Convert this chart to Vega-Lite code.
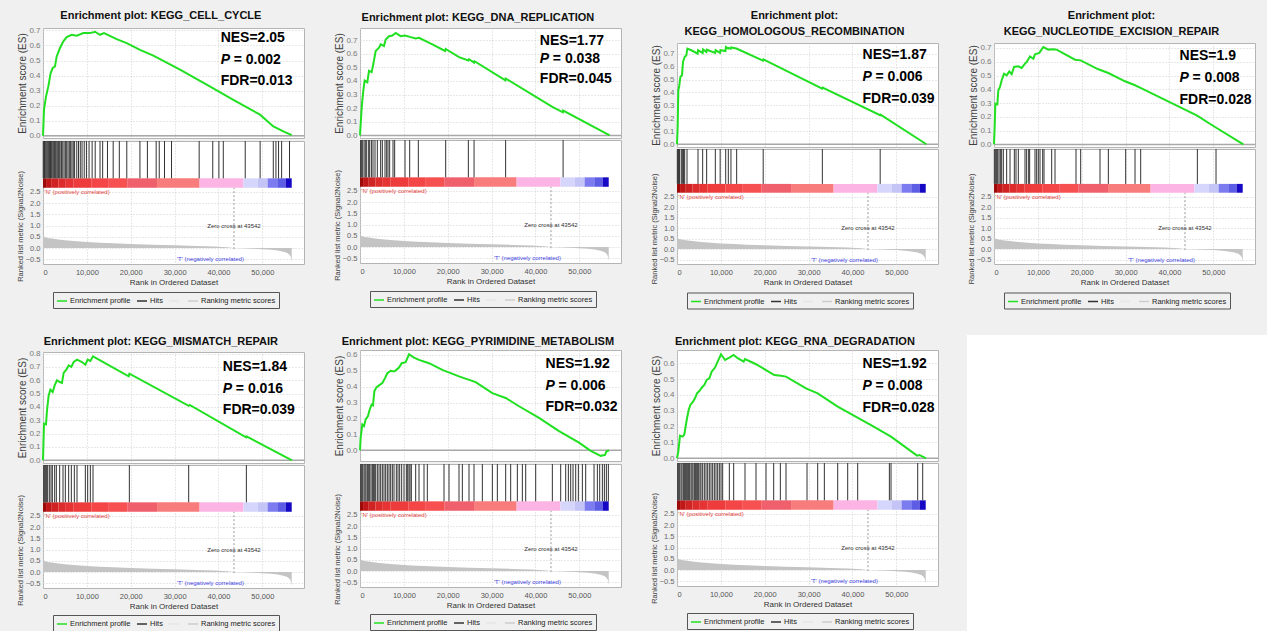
{
"$schema": "https://vega.github.io/schema/vega-lite/v6.json",
"background": "#f0f0f0",
"padding": {"left": 16, "top": 9, "right": 0, "bottom": 0},
"config": {
  "font": "Liberation Sans",
  "view": {"fill": "white", "stroke": "#b4b4b4"},
  "axis": {"domain": false, "ticks": false, "labelOverlap": false, "tickCount": 20, "gridColor": "#d0d0d0", "gridDash": [1, 2], "labelColor": "#7a7a7a", "titleColor": "#404040", "titleFontWeight": "normal"},
  "axisY": {"minExtent": 14, "maxExtent": 14, "labelPadding": 3},
  "title": {"fontSize": 11, "fontWeight": "bold", "color": "#111111", "anchor": "middle", "frame": "bounds", "offset": 5, "lineHeight": 16},
  "legend": {"orient": "none", "direction": "horizontal", "gridAlign": "none", "symbolType": "stroke", "symbolSize": 100, "symbolStrokeWidth": 1.5, "labelFontSize": 7.5, "labelColor": "#222222", "labelOffset": 2, "columnPadding": 3, "strokeColor": "#555555", "padding": 3}
},
"datasets": {
  "metric": [{"rank":0,"metric":0.58},{"rank":150,"metric":0.52},{"rank":500,"metric":0.48},{"rank":1000,"metric":0.45},{"rank":2000,"metric":0.42},{"rank":3500,"metric":0.38},{"rank":5000,"metric":0.35},{"rank":7000,"metric":0.31},{"rank":10000,"metric":0.27},{"rank":13000,"metric":0.24},{"rank":16000,"metric":0.21},{"rank":20000,"metric":0.18},{"rank":25000,"metric":0.15},{"rank":30000,"metric":0.12},{"rank":35000,"metric":0.095},{"rank":39000,"metric":0.07},{"rank":42000,"metric":0.04},{"rank":43542,"metric":0.0},{"rank":45500,"metric":-0.01},{"rank":48000,"metric":-0.03},{"rank":50000,"metric":-0.05},{"rank":52000,"metric":-0.08},{"rank":53500,"metric":-0.11},{"rank":54800,"metric":-0.16},{"rank":55700,"metric":-0.22},{"rank":56200,"metric":-0.3},{"rank":56500,"metric":-0.4},{"rank":56700,"metric":-0.62}],
  "colorbar": [{"start":0,"end":700,"bin":"b01"},{"start":700,"end":2000,"bin":"b02"},{"start":2000,"end":3500,"bin":"b03"},{"start":3500,"end":5200,"bin":"b04"},{"start":5200,"end":7000,"bin":"b05"},{"start":7000,"end":11000,"bin":"b06"},{"start":11000,"end":15000,"bin":"b07"},{"start":15000,"end":19200,"bin":"b08"},{"start":19200,"end":26000,"bin":"b09"},{"start":26000,"end":35700,"bin":"b10"},{"start":35700,"end":45700,"bin":"b11"},{"start":45700,"end":49000,"bin":"b12"},{"start":49000,"end":51200,"bin":"b13"},{"start":51200,"end":53400,"bin":"b14"},{"start":53400,"end":55300,"bin":"b15"},{"start":55300,"end":56700,"bin":"b16"}],
  "notes": [{"pos": "'N' (positively correlated)", "zero": "Zero cross at 43542", "neg": "'T' (negatively correlated)"}],
  "es1": [{"rank":0,"es":0},{"rank":228,"es":0.173},{"rank":684,"es":0.26},{"rank":1216,"es":0.328},{"rank":1748,"es":0.416},{"rank":2204,"es":0.45},{"rank":2736,"es":0.46},{"rank":3116,"es":0.527},{"rank":3876,"es":0.583},{"rank":4636,"es":0.627},{"rank":5396,"es":0.656},{"rank":6536,"es":0.671},{"rank":7676,"es":0.665},{"rank":9196,"es":0.682},{"rank":10716,"es":0.682},{"rank":11856,"es":0.691},{"rank":12996,"es":0.671},{"rank":13908,"es":0.682},{"rank":16796,"es":0.642},{"rank":19076,"es":0.616},{"rank":22116,"es":0.571},{"rank":25156,"es":0.532},{"rank":31236,"es":0.439},{"rank":37316,"es":0.339},{"rank":43396,"es":0.239},{"rank":49476,"es":0.14},{"rank":52516,"es":0.062},{"rank":54796,"es":0.029},{"rank":56696,"es":0.004}],
  "hits1": [{"rank":50},{"rank":200},{"rank":350},{"rank":500},{"rank":700},{"rank":900},{"rank":1100},{"rank":1300},{"rank":1500},{"rank":1700},{"rank":1900},{"rank":2100},{"rank":2350},{"rank":2600},{"rank":2800},{"rank":3000},{"rank":3250},{"rank":3500},{"rank":3700},{"rank":3900},{"rank":4200},{"rank":4500},{"rank":4800},{"rank":5100},{"rank":5400},{"rank":5700},{"rank":6000},{"rank":6300},{"rank":6600},{"rank":6900},{"rank":7200},{"rank":7700},{"rank":8100},{"rank":8500},{"rank":8900},{"rank":9400},{"rank":9900},{"rank":10500},{"rank":11200},{"rank":11900},{"rank":13000},{"rank":13600},{"rank":14700},{"rank":16000},{"rank":17400},{"rank":19100},{"rank":22100},{"rank":23800},{"rank":25800},{"rank":26500},{"rank":27700},{"rank":29300},{"rank":35600},{"rank":38700},{"rank":40100},{"rank":41100},{"rank":46100},{"rank":49500},{"rank":52500},{"rank":53100},{"rank":53700},{"rank":54400},{"rank":56200}],
  "es2": [{"rank":0,"es":0},{"rank":304,"es":0.162},{"rank":532,"es":0.258},{"rank":760,"es":0.33},{"rank":1064,"es":0.403},{"rank":1672,"es":0.39},{"rank":2052,"es":0.475},{"rank":2660,"es":0.465},{"rank":3040,"es":0.524},{"rank":3572,"es":0.62},{"rank":4332,"es":0.644},{"rank":4712,"es":0.669},{"rank":5472,"es":0.657},{"rank":5852,"es":0.705},{"rank":6612,"es":0.729},{"rank":7372,"es":0.734},{"rank":8132,"es":0.753},{"rank":9272,"es":0.729},{"rank":10260,"es":0.734},{"rank":11552,"es":0.722},{"rank":12692,"es":0.712},{"rank":13452,"es":0.717},{"rank":16492,"es":0.669},{"rank":19400,"es":0.62},{"rank":19532,"es":0.635},{"rank":22572,"es":0.575},{"rank":24700,"es":0.55},{"rank":24852,"es":0.56},{"rank":26000,"es":0.535},{"rank":26100,"es":0.545},{"rank":33150,"es":0.405},{"rank":33212,"es":0.418},{"rank":43852,"es":0.21},{"rank":46250,"es":0.17},{"rank":46320,"es":0.182},{"rank":56924,"es":0}],
  "hits2": [{"rank":152},{"rank":300},{"rank":532},{"rank":912},{"rank":1200},{"rank":1444},{"rank":1900},{"rank":2204},{"rank":2600},{"rank":2964},{"rank":3420},{"rank":3952},{"rank":4712},{"rank":5092},{"rank":5700},{"rank":6080},{"rank":6384},{"rank":6764},{"rank":7524},{"rank":7904},{"rank":10260},{"rank":11324},{"rank":13300},{"rank":19532},{"rank":24700},{"rank":26000},{"rank":33200},{"rank":46300}],
  "es3": [{"rank":0,"es":0},{"rank":152,"es":0.134},{"rank":304,"es":0.417},{"rank":532,"es":0.455},{"rank":760,"es":0.52},{"rank":1140,"es":0.533},{"rank":1368,"es":0.636},{"rank":1748,"es":0.674},{"rank":2128,"es":0.687},{"rank":2356,"es":0.739},{"rank":3268,"es":0.726},{"rank":4700,"es":0.7},{"rank":4800,"es":0.726},{"rank":5850,"es":0.705},{"rank":5930,"es":0.733},{"rank":6700,"es":0.713},{"rank":6800,"es":0.73},{"rank":8700,"es":0.705},{"rank":8800,"es":0.726},{"rank":9800,"es":0.705},{"rank":9900,"es":0.726},{"rank":11050,"es":0.72},{"rank":11150,"es":0.751},{"rank":11650,"es":0.739},{"rank":11750,"es":0.744},{"rank":12250,"es":0.738},{"rank":12350,"es":0.748},{"rank":13550,"es":0.739},{"rank":19600,"es":0.645},{"rank":19700,"es":0.655},{"rank":33100,"es":0.43},{"rank":33200,"es":0.437},{"rank":46300,"es":0.224},{"rank":46400,"es":0.229},{"rank":56848,"es":0}],
  "hits3": [{"rank":76},{"rank":228},{"rank":380},{"rank":500},{"rank":608},{"rank":988},{"rank":1292},{"rank":1500},{"rank":1748},{"rank":2280},{"rank":4788},{"rank":5850},{"rank":6760},{"rank":8740},{"rank":9840},{"rank":11100},{"rank":11700},{"rank":12300},{"rank":13600},{"rank":19650},{"rank":33136},{"rank":46320}],
  "es4": [{"rank":0,"es":0},{"rank":152,"es":0.126},{"rank":304,"es":0.295},{"rank":760,"es":0.29},{"rank":988,"es":0.392},{"rank":1368,"es":0.417},{"rank":1748,"es":0.465},{"rank":2280,"es":0.513},{"rank":2888,"es":0.501},{"rank":3496,"es":0.53},{"rank":4028,"es":0.509},{"rank":4560,"es":0.562},{"rank":5548,"es":0.567},{"rank":6308,"es":0.555},{"rank":7068,"es":0.586},{"rank":7448,"es":0.598},{"rank":8208,"es":0.639},{"rank":8968,"es":0.622},{"rank":9348,"es":0.654},{"rank":10336,"es":0.664},{"rank":11248,"es":0.707},{"rank":12388,"es":0.688},{"rank":13528,"es":0.69},{"rank":14288,"es":0.688},{"rank":18468,"es":0.615},{"rank":19760,"es":0.61},{"rank":23788,"es":0.545},{"rank":26068,"es":0.518},{"rank":29868,"es":0.458},{"rank":32148,"es":0.429},{"rank":33288,"es":0.412},{"rank":46208,"es":0.211},{"rank":50388,"es":0.126},{"rank":56848,"es":0}],
  "hits4": [{"rank":76},{"rank":380},{"rank":608},{"rank":836},{"rank":1140},{"rank":1444},{"rank":1748},{"rank":2128},{"rank":2888},{"rank":3648},{"rank":4636},{"rank":5016},{"rank":5548},{"rank":7068},{"rank":7448},{"rank":7904},{"rank":8132},{"rank":9348},{"rank":9728},{"rank":10108},{"rank":10488},{"rank":11096},{"rank":11400},{"rank":13148},{"rank":13908},{"rank":18696},{"rank":19760},{"rank":24168},{"rank":26068},{"rank":30020},{"rank":32148},{"rank":33440},{"rank":46360},{"rank":50616}],
  "es5": [{"rank":0,"es":0},{"rank":228,"es":0.275},{"rank":684,"es":0.27},{"rank":912,"es":0.375},{"rank":1292,"es":0.487},{"rank":1672,"es":0.53},{"rank":2204,"es":0.512},{"rank":2660,"es":0.562},{"rank":3192,"es":0.6},{"rank":3800,"es":0.587},{"rank":4332,"es":0.58},{"rank":4712,"es":0.655},{"rank":5320,"es":0.68},{"rank":5852,"es":0.712},{"rank":6460,"es":0.7},{"rank":6992,"es":0.737},{"rank":7752,"es":0.755},{"rank":8892,"es":0.737},{"rank":9652,"es":0.717},{"rank":10184,"es":0.755},{"rank":10792,"es":0.745},{"rank":11400,"es":0.78},{"rank":12312,"es":0.762},{"rank":19532,"es":0.63},{"rank":19700,"es":0.65},{"rank":33212,"es":0.408},{"rank":33440,"es":0.415},{"rank":46300,"es":0.172},{"rank":46400,"es":0.18},{"rank":56772,"es":0}],
  "hits5": [{"rank":152},{"rank":380},{"rank":608},{"rank":836},{"rank":1064},{"rank":1444},{"rank":1824},{"rank":2128},{"rank":2660},{"rank":3040},{"rank":3800},{"rank":4560},{"rank":5092},{"rank":5852},{"rank":6460},{"rank":7144},{"rank":7752},{"rank":9652},{"rank":10184},{"rank":10792},{"rank":11400},{"rank":19684},{"rank":33212},{"rank":46360}],
  "es6": [{"rank":0,"es":0},{"rank":152,"es":0.079},{"rank":532,"es":0.1625},{"rank":912,"es":0.152},{"rank":1292,"es":0.194},{"rank":1824,"es":0.215},{"rank":2204,"es":0.256},{"rank":2660,"es":0.2875},{"rank":2964,"es":0.283},{"rank":3268,"es":0.371},{"rank":3724,"es":0.396},{"rank":4332,"es":0.408},{"rank":5092,"es":0.423},{"rank":5700,"es":0.454},{"rank":6232,"es":0.485},{"rank":6992,"es":0.5},{"rank":7752,"es":0.496},{"rank":8284,"es":0.506},{"rank":8892,"es":0.521},{"rank":9500,"es":0.548},{"rank":10412,"es":0.554},{"rank":11172,"es":0.604},{"rank":12312,"es":0.583},{"rank":13452,"es":0.569},{"rank":15732,"es":0.548},{"rank":18772,"es":0.506},{"rank":22572,"es":0.465},{"rank":26372,"es":0.429},{"rank":30172,"es":0.36},{"rank":33212,"es":0.329},{"rank":36252,"es":0.277},{"rank":40812,"es":0.204},{"rank":45372,"es":0.121},{"rank":49932,"es":0.048},{"rank":52592,"es":-0.004},{"rank":54872,"es":-0.035},{"rank":55860,"es":-0.029},{"rank":56164,"es":-0.008},{"rank":56772,"es":0.0}],
  "hits6": [{"rank":152},{"rank":380},{"rank":608},{"rank":912},{"rank":1140},{"rank":1368},{"rank":1672},{"rank":1900},{"rank":2204},{"rank":2508},{"rank":2812},{"rank":3040},{"rank":3268},{"rank":3572},{"rank":3952},{"rank":4332},{"rank":4712},{"rank":5092},{"rank":5472},{"rank":5852},{"rank":6232},{"rank":6612},{"rank":6992},{"rank":7372},{"rank":7752},{"rank":8284},{"rank":8664},{"rank":9044},{"rank":9500},{"rank":10032},{"rank":10564},{"rank":10868},{"rank":11172},{"rank":11400},{"rank":11704},{"rank":12692},{"rank":13452},{"rank":14592},{"rank":15352},{"rank":19152},{"rank":20292},{"rank":22572},{"rank":23332},{"rank":24852},{"rank":25992},{"rank":27892},{"rank":30172},{"rank":31312},{"rank":33212},{"rank":34352},{"rank":35872},{"rank":37012},{"rank":37772},{"rank":40052},{"rank":43852},{"rank":45752},{"rank":46892},{"rank":47500},{"rank":48032},{"rank":48564},{"rank":49172},{"rank":49780},{"rank":50692},{"rank":51452},{"rank":53352},{"rank":54112},{"rank":54644},{"rank":55252},{"rank":55708},{"rank":56164},{"rank":56620}],
  "es7": [{"rank":0,"es":0},{"rank":304,"es":0.042},{"rank":684,"es":0.143},{"rank":1292,"es":0.137},{"rank":1672,"es":0.152},{"rank":2280,"es":0.253},{"rank":2660,"es":0.305},{"rank":3040,"es":0.337},{"rank":3572,"es":0.354},{"rank":4104,"es":0.379},{"rank":4560,"es":0.41},{"rank":5092,"es":0.425},{"rank":5624,"es":0.446},{"rank":6232,"es":0.463},{"rank":6764,"es":0.495},{"rank":7372,"es":0.505},{"rank":7904,"es":0.547},{"rank":8664,"es":0.573},{"rank":9272,"es":0.611},{"rank":10032,"es":0.657},{"rank":10944,"es":0.621},{"rank":11932,"es":0.636},{"rank":12920,"es":0.653},{"rank":13832,"es":0.632},{"rank":15200,"es":0.611},{"rank":15504,"es":0.627},{"rank":18012,"es":0.594},{"rank":22192,"es":0.526},{"rank":23712,"es":0.522},{"rank":24852,"es":0.516},{"rank":29412,"es":0.442},{"rank":32072,"es":0.41},{"rank":36632,"es":0.326},{"rank":44232,"es":0.21},{"rank":48792,"es":0.137},{"rank":54720,"es":0.017},{"rank":55252,"es":0.021},{"rank":56012,"es":0.01},{"rank":56772,"es":0}],
  "hits7": [{"rank":152},{"rank":380},{"rank":608},{"rank":912},{"rank":1140},{"rank":1444},{"rank":1672},{"rank":1900},{"rank":2128},{"rank":2432},{"rank":2660},{"rank":2888},{"rank":3192},{"rank":3420},{"rank":3648},{"rank":3952},{"rank":4180},{"rank":4408},{"rank":4712},{"rank":4940},{"rank":5244},{"rank":5472},{"rank":5852},{"rank":6232},{"rank":6612},{"rank":6992},{"rank":7372},{"rank":7752},{"rank":8132},{"rank":8512},{"rank":8892},{"rank":9272},{"rank":9652},{"rank":10032},{"rank":10412},{"rank":11932},{"rank":12920},{"rank":15504},{"rank":18012},{"rank":20292},{"rank":22040},{"rank":23560},{"rank":24852},{"rank":29640},{"rank":32072},{"rank":33592},{"rank":36632},{"rank":38912},{"rank":41192},{"rank":48412},{"rank":48792},{"rank":54872},{"rank":56012}]
},
"resolve": {"legend": {"color": "independent"}},
"columns": 4,
"align": "none",
"spacing": {"row": 25, "column": 27},
"concat": [
{
 "spacing": -1, "resolve": {"legend": {"color": "independent"}},
 "vconcat": [
  {"width": 261, "height": 110, "title": {"text": "Enrichment plot: KEGG_CELL_CYCLE", "offset": 5},
   "layer": [
    {"data": {"values": [{}]}, "mark": {"type": "rule", "color": "#a8a8a8", "strokeWidth": 1.5}, "encoding": {"y": {"datum": 0, "type": "quantitative"}}},
    {"data": {"name": "es1"}, "mark": {"type": "line", "color": "#21e021", "strokeWidth": 2}, "encoding": {
      "x": {"field": "rank", "type": "quantitative", "scale": {"domain": [0, 59500], "nice": false, "zero": false}, "axis": {"values": [0,10000,20000,30000,40000,50000], "labels": false, "title": null, "grid": true, "minExtent": 0, "maxExtent": 0}},
      "y": {"field": "es", "type": "quantitative", "scale": {"domain": [-0.015, 0.716], "nice": false, "zero": false}, "axis": {"values": [0,0.1,0.2,0.3,0.4,0.5,0.6,0.7], "tickCount": 20, "format": ".1f", "title": "Enrichment score (ES)", "titleFontSize": 10, "titlePadding": 2, "labelFontSize": 8, "grid": true}}}},
    {"data": {"values": [{"nes": "NES=2.05", "p": "P", "pv": "= 0.002", "fdr": "FDR=0.013"}]}, "layer": [
      {"mark": {"type": "text", "align": "left", "baseline": "middle", "fontSize": 14, "fontWeight": "bold", "color": "#000000"}, "encoding": {"x": {"datum": 40500}, "y": {"datum": 0.649}, "text": {"field": "nes"}}},
      {"mark": {"type": "text", "align": "left", "baseline": "middle", "fontSize": 14, "fontWeight": "bold", "fontStyle": "italic", "color": "#000000"}, "encoding": {"x": {"datum": 40500}, "y": {"datum": 0.505}, "text": {"field": "p"}}},
      {"mark": {"type": "text", "align": "left", "baseline": "middle", "fontSize": 14, "fontWeight": "bold", "dx": 13, "color": "#000000"}, "encoding": {"x": {"datum": 40500}, "y": {"datum": 0.505}, "text": {"field": "pv"}}},
      {"mark": {"type": "text", "align": "left", "baseline": "middle", "fontSize": 14, "fontWeight": "bold", "color": "#000000"}, "encoding": {"x": {"datum": 40500}, "y": {"datum": 0.366}, "text": {"field": "fdr"}}}]}
   ]},
  {"width": 261, "height": 123,
   "layer": [
    {"data": {"name": "metric"}, "mark": {"type": "area", "color": "#c4c4c4"}, "encoding": {
      "x": {"field": "rank", "type": "quantitative", "scale": {"domain": [0, 59500], "nice": false, "zero": false}, "axis": {"values": [0,10000,20000,30000,40000,50000], "format": ",d", "title": "Rank in Ordered Dataset", "titleFontSize": 8, "titleColor": "#333333", "titlePadding": 3, "labelFontSize": 7.5, "labelColor": "#555555", "labelPadding": 4, "grid": true}},
      "y": {"field": "metric", "type": "quantitative", "scale": {"domain": [-0.71, 4.76], "nice": false}, "axis": {"values": [-0.5,0,0.5,1,1.5,2,2.5], "tickCount": 20, "format": ".1f", "title": "Ranked list metric (Signal2Noise)", "titleFontSize": 7.5, "titlePadding": 4.5, "titleY": 84.9, "labelFontSize": 7.5, "labelColor": "#666666", "grid": true}}}},
    {"data": {"name": "colorbar"}, "mark": {"type": "rect"}, "encoding": {"x": {"field": "start", "type": "quantitative"}, "x2": {"field": "end"}, "y": {"datum": 2.68}, "y2": {"datum": 3.1},
      "fill": {"field": "bin", "type": "nominal", "legend": null, "scale": {"domain": ["b01","b02","b03","b04","b05","b06","b07","b08","b09","b10","b11","b12","b13","b14","b15","b16"], "range": ["#9c0a0a","#c01818","#d02424","#dc2c2c","#e63434","#ee3c3c","#f44646","#f65050","#f0606c","#f87c7c","#fcb4e4","#d6d6fc","#c4c4f6","#7c7cf0","#5c5ce4","#1608c4"]}}}},
    {"data": {"name": "hits1"}, "mark": {"type": "rule", "strokeWidth": 1}, "encoding": {"x": {"field": "rank", "type": "quantitative"}, "y": {"datum": 3.1}, "y2": {"datum": 4.76},
      "color": {"datum": "Hits", "type": "nominal", "scale": {"domain": ["Enrichment profile", "Hits", "", "Ranking metric scores"], "range": ["#21e021", "#333333", "#e6e6e6", "#cccccc"]}, "legend": {"legendX": 10, "legendY": 151, "title": null}}}},
    {"data": {"values": [{}]}, "mark": {"type": "rule", "color": "#999999", "strokeDash": [2, 2]}, "encoding": {"x": {"datum": 43542}, "y": {"datum": -0.05}, "y2": {"datum": 2.68}}},
    {"data": {"name": "notes"}, "layer": [
      {"mark": {"type": "text", "align": "left", "baseline": "middle", "fontSize": 6, "color": "#e03c3c"}, "encoding": {"x": {"datum": 300}, "y": {"datum": 2.5}, "text": {"field": "pos"}}},
      {"mark": {"type": "text", "align": "center", "baseline": "middle", "fontSize": 6, "color": "#333333"}, "encoding": {"x": {"datum": 43542}, "y": {"datum": 1.0}, "text": {"field": "zero"}}},
      {"mark": {"type": "text", "align": "right", "baseline": "middle", "fontSize": 6, "color": "#3c3ce0"}, "encoding": {"x": {"datum": 45800}, "y": {"datum": -0.5}, "text": {"field": "neg"}}}]}
   ]}
 ]
},
{
 "spacing": -1, "resolve": {"legend": {"color": "independent"}},
 "vconcat": [
  {"width": 261, "height": 110, "title": {"text": "Enrichment plot: KEGG_DNA_REPLICATION", "offset": 5},
   "layer": [
    {"data": {"values": [{}]}, "mark": {"type": "rule", "color": "#a8a8a8", "strokeWidth": 1.5}, "encoding": {"y": {"datum": 0, "type": "quantitative"}}},
    {"data": {"name": "es2"}, "mark": {"type": "line", "color": "#21e021", "strokeWidth": 2}, "encoding": {
      "x": {"field": "rank", "type": "quantitative", "scale": {"domain": [0, 59500], "nice": false, "zero": false}, "axis": {"values": [0,10000,20000,30000,40000,50000], "labels": false, "title": null, "grid": true, "minExtent": 0, "maxExtent": 0}},
      "y": {"field": "es", "type": "quantitative", "scale": {"domain": [-0.019, 0.789], "nice": false, "zero": false}, "axis": {"values": [0,0.1,0.2,0.3,0.4,0.5,0.6,0.7], "tickCount": 20, "format": ".1f", "title": "Enrichment score (ES)", "titleFontSize": 10, "titlePadding": 2, "labelFontSize": 8, "grid": true}}}},
    {"data": {"values": [{"nes": "NES=1.77", "p": "P", "pv": "= 0.038", "fdr": "FDR=0.045"}]}, "layer": [
      {"mark": {"type": "text", "align": "left", "baseline": "middle", "fontSize": 14, "fontWeight": "bold", "color": "#000000"}, "encoding": {"x": {"datum": 41000}, "y": {"datum": 0.694}, "text": {"field": "nes"}}},
      {"mark": {"type": "text", "align": "left", "baseline": "middle", "fontSize": 14, "fontWeight": "bold", "fontStyle": "italic", "color": "#000000"}, "encoding": {"x": {"datum": 41000}, "y": {"datum": 0.561}, "text": {"field": "p"}}},
      {"mark": {"type": "text", "align": "left", "baseline": "middle", "fontSize": 14, "fontWeight": "bold", "dx": 13, "color": "#000000"}, "encoding": {"x": {"datum": 41000}, "y": {"datum": 0.561}, "text": {"field": "pv"}}},
      {"mark": {"type": "text", "align": "left", "baseline": "middle", "fontSize": 14, "fontWeight": "bold", "color": "#000000"}, "encoding": {"x": {"datum": 41000}, "y": {"datum": 0.417}, "text": {"field": "fdr"}}}]}
   ]},
  {"width": 261, "height": 123,
   "layer": [
    {"data": {"name": "metric"}, "mark": {"type": "area", "color": "#c4c4c4"}, "encoding": {
      "x": {"field": "rank", "type": "quantitative", "scale": {"domain": [0, 59500], "nice": false, "zero": false}, "axis": {"values": [0,10000,20000,30000,40000,50000], "format": ",d", "title": "Rank in Ordered Dataset", "titleFontSize": 8, "titleColor": "#333333", "titlePadding": 3, "labelFontSize": 7.5, "labelColor": "#555555", "labelPadding": 4, "grid": true}},
      "y": {"field": "metric", "type": "quantitative", "scale": {"domain": [-0.71, 4.76], "nice": false}, "axis": {"values": [-0.5,0,0.5,1,1.5,2,2.5], "tickCount": 20, "format": ".1f", "title": "Ranked list metric (Signal2Noise)", "titleFontSize": 7.5, "titlePadding": 4.5, "titleY": 84.9, "labelFontSize": 7.5, "labelColor": "#666666", "grid": true}}}},
    {"data": {"name": "colorbar"}, "mark": {"type": "rect"}, "encoding": {"x": {"field": "start", "type": "quantitative"}, "x2": {"field": "end"}, "y": {"datum": 2.68}, "y2": {"datum": 3.1},
      "fill": {"field": "bin", "type": "nominal", "legend": null, "scale": {"domain": ["b01","b02","b03","b04","b05","b06","b07","b08","b09","b10","b11","b12","b13","b14","b15","b16"], "range": ["#9c0a0a","#c01818","#d02424","#dc2c2c","#e63434","#ee3c3c","#f44646","#f65050","#f0606c","#f87c7c","#fcb4e4","#d6d6fc","#c4c4f6","#7c7cf0","#5c5ce4","#1608c4"]}}}},
    {"data": {"name": "hits2"}, "mark": {"type": "rule", "strokeWidth": 1}, "encoding": {"x": {"field": "rank", "type": "quantitative"}, "y": {"datum": 3.1}, "y2": {"datum": 4.76},
      "color": {"datum": "Hits", "type": "nominal", "scale": {"domain": ["Enrichment profile", "Hits", "", "Ranking metric scores"], "range": ["#21e021", "#333333", "#e6e6e6", "#cccccc"]}, "legend": {"legendX": 10, "legendY": 151, "title": null}}}},
    {"data": {"values": [{}]}, "mark": {"type": "rule", "color": "#999999", "strokeDash": [2, 2]}, "encoding": {"x": {"datum": 43542}, "y": {"datum": -0.05}, "y2": {"datum": 2.68}}},
    {"data": {"name": "notes"}, "layer": [
      {"mark": {"type": "text", "align": "left", "baseline": "middle", "fontSize": 6, "color": "#e03c3c"}, "encoding": {"x": {"datum": 300}, "y": {"datum": 2.5}, "text": {"field": "pos"}}},
      {"mark": {"type": "text", "align": "center", "baseline": "middle", "fontSize": 6, "color": "#333333"}, "encoding": {"x": {"datum": 43542}, "y": {"datum": 1.0}, "text": {"field": "zero"}}},
      {"mark": {"type": "text", "align": "right", "baseline": "middle", "fontSize": 6, "color": "#3c3ce0"}, "encoding": {"x": {"datum": 45800}, "y": {"datum": -0.5}, "text": {"field": "neg"}}}]}
   ]}
 ]
},
{
 "spacing": -1, "resolve": {"legend": {"color": "independent"}},
 "vconcat": [
  {"width": 261, "height": 14.7, "title": {"text": ["Enrichment plot:", "KEGG_HOMOLOGOUS_RECOMBINATION"], "offset": -9, "dx": -13}, "view": {"fill": "transparent", "stroke": null}, "data": {"values": [{}]}, "mark": {"type": "point", "opacity": 0}, "encoding": {}},
  {"width": 261, "height": 104,
   "layer": [
    {"data": {"values": [{}]}, "mark": {"type": "rule", "color": "#a8a8a8", "strokeWidth": 1.5}, "encoding": {"y": {"datum": 0, "type": "quantitative"}}},
    {"data": {"name": "es3"}, "mark": {"type": "line", "color": "#21e021", "strokeWidth": 2}, "encoding": {
      "x": {"field": "rank", "type": "quantitative", "scale": {"domain": [0, 59500], "nice": false, "zero": false}, "axis": {"values": [0,10000,20000,30000,40000,50000], "labels": false, "title": null, "grid": true, "minExtent": 0, "maxExtent": 0}},
      "y": {"field": "es", "type": "quantitative", "scale": {"domain": [-0.021, 0.782], "nice": false, "zero": false}, "axis": {"values": [0,0.1,0.2,0.3,0.4,0.5,0.6,0.7], "tickCount": 20, "format": ".1f", "title": "Enrichment score (ES)", "titleFontSize": 10, "titlePadding": 2, "labelFontSize": 8, "grid": true}}}},
    {"data": {"values": [{"nes": "NES=1.87", "p": "P", "pv": "= 0.006", "fdr": "FDR=0.039"}]}, "layer": [
      {"mark": {"type": "text", "align": "left", "baseline": "middle", "fontSize": 14, "fontWeight": "bold", "color": "#000000"}, "encoding": {"x": {"datum": 42300}, "y": {"datum": 0.687}, "text": {"field": "nes"}}},
      {"mark": {"type": "text", "align": "left", "baseline": "middle", "fontSize": 14, "fontWeight": "bold", "fontStyle": "italic", "color": "#000000"}, "encoding": {"x": {"datum": 42300}, "y": {"datum": 0.52}, "text": {"field": "p"}}},
      {"mark": {"type": "text", "align": "left", "baseline": "middle", "fontSize": 14, "fontWeight": "bold", "dx": 13, "color": "#000000"}, "encoding": {"x": {"datum": 42300}, "y": {"datum": 0.52}, "text": {"field": "pv"}}},
      {"mark": {"type": "text", "align": "left", "baseline": "middle", "fontSize": 14, "fontWeight": "bold", "color": "#000000"}, "encoding": {"x": {"datum": 42300}, "y": {"datum": 0.353}, "text": {"field": "fdr"}}}]}
   ]},
  {"width": 261, "height": 115,
   "layer": [
    {"data": {"name": "metric"}, "mark": {"type": "area", "color": "#c4c4c4"}, "encoding": {
      "x": {"field": "rank", "type": "quantitative", "scale": {"domain": [0, 59500], "nice": false, "zero": false}, "axis": {"values": [0,10000,20000,30000,40000,50000], "format": ",d", "title": "Rank in Ordered Dataset", "titleFontSize": 8, "titleColor": "#333333", "titlePadding": 3, "labelFontSize": 7.5, "labelColor": "#555555", "labelPadding": 4, "grid": true}},
      "y": {"field": "metric", "type": "quantitative", "scale": {"domain": [-0.71, 4.76], "nice": false}, "axis": {"values": [-0.5,0,0.5,1,1.5,2,2.5], "tickCount": 20, "format": ".1f", "title": "Ranked list metric (Signal2Noise)", "titleFontSize": 7.5, "titlePadding": 4.5, "titleY": 79.4, "labelFontSize": 7.5, "labelColor": "#666666", "grid": true}}}},
    {"data": {"name": "colorbar"}, "mark": {"type": "rect"}, "encoding": {"x": {"field": "start", "type": "quantitative"}, "x2": {"field": "end"}, "y": {"datum": 2.68}, "y2": {"datum": 3.1},
      "fill": {"field": "bin", "type": "nominal", "legend": null, "scale": {"domain": ["b01","b02","b03","b04","b05","b06","b07","b08","b09","b10","b11","b12","b13","b14","b15","b16"], "range": ["#9c0a0a","#c01818","#d02424","#dc2c2c","#e63434","#ee3c3c","#f44646","#f65050","#f0606c","#f87c7c","#fcb4e4","#d6d6fc","#c4c4f6","#7c7cf0","#5c5ce4","#1608c4"]}}}},
    {"data": {"name": "hits3"}, "mark": {"type": "rule", "strokeWidth": 1}, "encoding": {"x": {"field": "rank", "type": "quantitative"}, "y": {"datum": 3.1}, "y2": {"datum": 4.76},
      "color": {"datum": "Hits", "type": "nominal", "scale": {"domain": ["Enrichment profile", "Hits", "", "Ranking metric scores"], "range": ["#21e021", "#333333", "#e6e6e6", "#cccccc"]}, "legend": {"legendX": 10, "legendY": 143.5, "title": null}}}},
    {"data": {"values": [{}]}, "mark": {"type": "rule", "color": "#999999", "strokeDash": [2, 2]}, "encoding": {"x": {"datum": 43542}, "y": {"datum": -0.05}, "y2": {"datum": 2.68}}},
    {"data": {"name": "notes"}, "layer": [
      {"mark": {"type": "text", "align": "left", "baseline": "middle", "fontSize": 6, "color": "#e03c3c"}, "encoding": {"x": {"datum": 300}, "y": {"datum": 2.5}, "text": {"field": "pos"}}},
      {"mark": {"type": "text", "align": "center", "baseline": "middle", "fontSize": 6, "color": "#333333"}, "encoding": {"x": {"datum": 43542}, "y": {"datum": 1.0}, "text": {"field": "zero"}}},
      {"mark": {"type": "text", "align": "right", "baseline": "middle", "fontSize": 6, "color": "#3c3ce0"}, "encoding": {"x": {"datum": 45800}, "y": {"datum": -0.5}, "text": {"field": "neg"}}}]}
   ]}
 ]
},
{
 "spacing": -1, "resolve": {"legend": {"color": "independent"}},
 "vconcat": [
  {"width": 261, "height": 14.7, "title": {"text": ["Enrichment plot:", "KEGG_NUCLEOTIDE_EXCISION_REPAIR"], "offset": -9, "dx": -13}, "view": {"fill": "transparent", "stroke": null}, "data": {"values": [{}]}, "mark": {"type": "point", "opacity": 0}, "encoding": {}},
  {"width": 261, "height": 104,
   "layer": [
    {"data": {"values": [{}]}, "mark": {"type": "rule", "color": "#a8a8a8", "strokeWidth": 1.5}, "encoding": {"y": {"datum": 0, "type": "quantitative"}}},
    {"data": {"name": "es4"}, "mark": {"type": "line", "color": "#21e021", "strokeWidth": 2}, "encoding": {
      "x": {"field": "rank", "type": "quantitative", "scale": {"domain": [0, 59500], "nice": false, "zero": false}, "axis": {"values": [0,10000,20000,30000,40000,50000], "labels": false, "title": null, "grid": true, "minExtent": 0, "maxExtent": 0}},
      "y": {"field": "es", "type": "quantitative", "scale": {"domain": [-0.019, 0.736], "nice": false, "zero": false}, "axis": {"values": [0,0.1,0.2,0.3,0.4,0.5,0.6,0.7], "tickCount": 20, "format": ".1f", "title": "Enrichment score (ES)", "titleFontSize": 10, "titlePadding": 2, "labelFontSize": 8, "grid": true}}}},
    {"data": {"values": [{"nes": "NES=1.9", "p": "P", "pv": "= 0.008", "fdr": "FDR=0.028"}]}, "layer": [
      {"mark": {"type": "text", "align": "left", "baseline": "middle", "fontSize": 14, "fontWeight": "bold", "color": "#000000"}, "encoding": {"x": {"datum": 42300}, "y": {"datum": 0.64}, "text": {"field": "nes"}}},
      {"mark": {"type": "text", "align": "left", "baseline": "middle", "fontSize": 14, "fontWeight": "bold", "fontStyle": "italic", "color": "#000000"}, "encoding": {"x": {"datum": 42300}, "y": {"datum": 0.485}, "text": {"field": "p"}}},
      {"mark": {"type": "text", "align": "left", "baseline": "middle", "fontSize": 14, "fontWeight": "bold", "dx": 13, "color": "#000000"}, "encoding": {"x": {"datum": 42300}, "y": {"datum": 0.485}, "text": {"field": "pv"}}},
      {"mark": {"type": "text", "align": "left", "baseline": "middle", "fontSize": 14, "fontWeight": "bold", "color": "#000000"}, "encoding": {"x": {"datum": 42300}, "y": {"datum": 0.325}, "text": {"field": "fdr"}}}]}
   ]},
  {"width": 261, "height": 115,
   "layer": [
    {"data": {"name": "metric"}, "mark": {"type": "area", "color": "#c4c4c4"}, "encoding": {
      "x": {"field": "rank", "type": "quantitative", "scale": {"domain": [0, 59500], "nice": false, "zero": false}, "axis": {"values": [0,10000,20000,30000,40000,50000], "format": ",d", "title": "Rank in Ordered Dataset", "titleFontSize": 8, "titleColor": "#333333", "titlePadding": 3, "labelFontSize": 7.5, "labelColor": "#555555", "labelPadding": 4, "grid": true}},
      "y": {"field": "metric", "type": "quantitative", "scale": {"domain": [-0.71, 4.76], "nice": false}, "axis": {"values": [-0.5,0,0.5,1,1.5,2,2.5], "tickCount": 20, "format": ".1f", "title": "Ranked list metric (Signal2Noise)", "titleFontSize": 7.5, "titlePadding": 4.5, "titleY": 79.4, "labelFontSize": 7.5, "labelColor": "#666666", "grid": true}}}},
    {"data": {"name": "colorbar"}, "mark": {"type": "rect"}, "encoding": {"x": {"field": "start", "type": "quantitative"}, "x2": {"field": "end"}, "y": {"datum": 2.68}, "y2": {"datum": 3.1},
      "fill": {"field": "bin", "type": "nominal", "legend": null, "scale": {"domain": ["b01","b02","b03","b04","b05","b06","b07","b08","b09","b10","b11","b12","b13","b14","b15","b16"], "range": ["#9c0a0a","#c01818","#d02424","#dc2c2c","#e63434","#ee3c3c","#f44646","#f65050","#f0606c","#f87c7c","#fcb4e4","#d6d6fc","#c4c4f6","#7c7cf0","#5c5ce4","#1608c4"]}}}},
    {"data": {"name": "hits4"}, "mark": {"type": "rule", "strokeWidth": 1}, "encoding": {"x": {"field": "rank", "type": "quantitative"}, "y": {"datum": 3.1}, "y2": {"datum": 4.76},
      "color": {"datum": "Hits", "type": "nominal", "scale": {"domain": ["Enrichment profile", "Hits", "", "Ranking metric scores"], "range": ["#21e021", "#333333", "#e6e6e6", "#cccccc"]}, "legend": {"legendX": 10, "legendY": 143.5, "title": null}}}},
    {"data": {"values": [{}]}, "mark": {"type": "rule", "color": "#999999", "strokeDash": [2, 2]}, "encoding": {"x": {"datum": 43542}, "y": {"datum": -0.05}, "y2": {"datum": 2.68}}},
    {"data": {"name": "notes"}, "layer": [
      {"mark": {"type": "text", "align": "left", "baseline": "middle", "fontSize": 6, "color": "#e03c3c"}, "encoding": {"x": {"datum": 300}, "y": {"datum": 2.5}, "text": {"field": "pos"}}},
      {"mark": {"type": "text", "align": "center", "baseline": "middle", "fontSize": 6, "color": "#333333"}, "encoding": {"x": {"datum": 43542}, "y": {"datum": 1.0}, "text": {"field": "zero"}}},
      {"mark": {"type": "text", "align": "right", "baseline": "middle", "fontSize": 6, "color": "#3c3ce0"}, "encoding": {"x": {"datum": 45800}, "y": {"datum": -0.5}, "text": {"field": "neg"}}}]}
   ]}
 ]
},
{
 "spacing": -1, "resolve": {"legend": {"color": "independent"}},
 "vconcat": [
  {"width": 261, "height": 111, "title": {"text": "Enrichment plot: KEGG_MISMATCH_REPAIR", "offset": 3},
   "layer": [
    {"data": {"values": [{}]}, "mark": {"type": "rule", "color": "#a8a8a8", "strokeWidth": 1.5}, "encoding": {"y": {"datum": 0, "type": "quantitative"}}},
    {"data": {"name": "es5"}, "mark": {"type": "line", "color": "#21e021", "strokeWidth": 2}, "encoding": {
      "x": {"field": "rank", "type": "quantitative", "scale": {"domain": [0, 59500], "nice": false, "zero": false}, "axis": {"values": [0,10000,20000,30000,40000,50000], "labels": false, "title": null, "grid": true, "minExtent": 0, "maxExtent": 0}},
      "y": {"field": "es", "type": "quantitative", "scale": {"domain": [-0.02, 0.812], "nice": false, "zero": false}, "axis": {"values": [0,0.1,0.2,0.3,0.4,0.5,0.6,0.7,0.8], "tickCount": 20, "format": ".1f", "title": "Enrichment score (ES)", "titleFontSize": 10, "titlePadding": 2, "labelFontSize": 8, "grid": true}}}},
    {"data": {"values": [{"nes": "NES=1.84", "p": "P", "pv": "= 0.016", "fdr": "FDR=0.039"}]}, "layer": [
      {"mark": {"type": "text", "align": "left", "baseline": "middle", "fontSize": 14, "fontWeight": "bold", "color": "#000000"}, "encoding": {"x": {"datum": 41000}, "y": {"datum": 0.7}, "text": {"field": "nes"}}},
      {"mark": {"type": "text", "align": "left", "baseline": "middle", "fontSize": 14, "fontWeight": "bold", "fontStyle": "italic", "color": "#000000"}, "encoding": {"x": {"datum": 41000}, "y": {"datum": 0.537}, "text": {"field": "p"}}},
      {"mark": {"type": "text", "align": "left", "baseline": "middle", "fontSize": 14, "fontWeight": "bold", "dx": 13, "color": "#000000"}, "encoding": {"x": {"datum": 41000}, "y": {"datum": 0.537}, "text": {"field": "pv"}}},
      {"mark": {"type": "text", "align": "left", "baseline": "middle", "fontSize": 14, "fontWeight": "bold", "color": "#000000"}, "encoding": {"x": {"datum": 41000}, "y": {"datum": 0.375}, "text": {"field": "fdr"}}}]}
   ]},
  {"width": 261, "height": 123,
   "layer": [
    {"data": {"name": "metric"}, "mark": {"type": "area", "color": "#c4c4c4"}, "encoding": {
      "x": {"field": "rank", "type": "quantitative", "scale": {"domain": [0, 59500], "nice": false, "zero": false}, "axis": {"values": [0,10000,20000,30000,40000,50000], "format": ",d", "title": "Rank in Ordered Dataset", "titleFontSize": 8, "titleColor": "#333333", "titlePadding": 3, "labelFontSize": 7.5, "labelColor": "#555555", "labelPadding": 4, "grid": true}},
      "y": {"field": "metric", "type": "quantitative", "scale": {"domain": [-0.71, 4.76], "nice": false}, "axis": {"values": [-0.5,0,0.5,1,1.5,2,2.5], "tickCount": 20, "format": ".1f", "title": "Ranked list metric (Signal2Noise)", "titleFontSize": 7.5, "titlePadding": 4.5, "titleY": 84.9, "labelFontSize": 7.5, "labelColor": "#666666", "grid": true}}}},
    {"data": {"name": "colorbar"}, "mark": {"type": "rect"}, "encoding": {"x": {"field": "start", "type": "quantitative"}, "x2": {"field": "end"}, "y": {"datum": 2.68}, "y2": {"datum": 3.1},
      "fill": {"field": "bin", "type": "nominal", "legend": null, "scale": {"domain": ["b01","b02","b03","b04","b05","b06","b07","b08","b09","b10","b11","b12","b13","b14","b15","b16"], "range": ["#9c0a0a","#c01818","#d02424","#dc2c2c","#e63434","#ee3c3c","#f44646","#f65050","#f0606c","#f87c7c","#fcb4e4","#d6d6fc","#c4c4f6","#7c7cf0","#5c5ce4","#1608c4"]}}}},
    {"data": {"name": "hits5"}, "mark": {"type": "rule", "strokeWidth": 1}, "encoding": {"x": {"field": "rank", "type": "quantitative"}, "y": {"datum": 3.1}, "y2": {"datum": 4.76},
      "color": {"datum": "Hits", "type": "nominal", "scale": {"domain": ["Enrichment profile", "Hits", "", "Ranking metric scores"], "range": ["#21e021", "#333333", "#e6e6e6", "#cccccc"]}, "legend": {"legendX": 10, "legendY": 150, "title": null}}}},
    {"data": {"values": [{}]}, "mark": {"type": "rule", "color": "#999999", "strokeDash": [2, 2]}, "encoding": {"x": {"datum": 43542}, "y": {"datum": -0.05}, "y2": {"datum": 2.68}}},
    {"data": {"name": "notes"}, "layer": [
      {"mark": {"type": "text", "align": "left", "baseline": "middle", "fontSize": 6, "color": "#e03c3c"}, "encoding": {"x": {"datum": 300}, "y": {"datum": 2.5}, "text": {"field": "pos"}}},
      {"mark": {"type": "text", "align": "center", "baseline": "middle", "fontSize": 6, "color": "#333333"}, "encoding": {"x": {"datum": 43542}, "y": {"datum": 1.0}, "text": {"field": "zero"}}},
      {"mark": {"type": "text", "align": "right", "baseline": "middle", "fontSize": 6, "color": "#3c3ce0"}, "encoding": {"x": {"datum": 45800}, "y": {"datum": -0.5}, "text": {"field": "neg"}}}]}
   ]}
 ]
},
{
 "spacing": 1, "resolve": {"legend": {"color": "independent"}},
 "vconcat": [
  {"width": 261, "height": 111, "title": {"text": "Enrichment plot: KEGG_PYRIMIDINE_METABOLISM", "offset": 3},
   "layer": [
    {"data": {"values": [{}]}, "mark": {"type": "rule", "color": "#a8a8a8", "strokeWidth": 1.5}, "encoding": {"y": {"datum": 0, "type": "quantitative"}}},
    {"data": {"name": "es6"}, "mark": {"type": "line", "color": "#21e021", "strokeWidth": 2}, "encoding": {
      "x": {"field": "rank", "type": "quantitative", "scale": {"domain": [0, 59500], "nice": false, "zero": false}, "axis": {"values": [0,10000,20000,30000,40000,50000], "labels": false, "title": null, "grid": true, "minExtent": 0, "maxExtent": 0}},
      "y": {"field": "es", "type": "quantitative", "scale": {"domain": [-0.0675, 0.631], "nice": false, "zero": false}, "axis": {"values": [0,0.1,0.2,0.3,0.4,0.5,0.6], "tickCount": 20, "format": ".1f", "title": "Enrichment score (ES)", "titleFontSize": 10, "titlePadding": 2, "labelFontSize": 8, "grid": true}}}},
    {"data": {"values": [{"nes": "NES=1.92", "p": "P", "pv": "= 0.006", "fdr": "FDR=0.032"}]}, "layer": [
      {"mark": {"type": "text", "align": "left", "baseline": "middle", "fontSize": 14, "fontWeight": "bold", "color": "#000000"}, "encoding": {"x": {"datum": 42300}, "y": {"datum": 0.542}, "text": {"field": "nes"}}},
      {"mark": {"type": "text", "align": "left", "baseline": "middle", "fontSize": 14, "fontWeight": "bold", "fontStyle": "italic", "color": "#000000"}, "encoding": {"x": {"datum": 42300}, "y": {"datum": 0.406}, "text": {"field": "p"}}},
      {"mark": {"type": "text", "align": "left", "baseline": "middle", "fontSize": 14, "fontWeight": "bold", "dx": 13, "color": "#000000"}, "encoding": {"x": {"datum": 42300}, "y": {"datum": 0.406}, "text": {"field": "pv"}}},
      {"mark": {"type": "text", "align": "left", "baseline": "middle", "fontSize": 14, "fontWeight": "bold", "color": "#000000"}, "encoding": {"x": {"datum": 42300}, "y": {"datum": 0.271}, "text": {"field": "fdr"}}}]}
   ]},
  {"width": 261, "height": 123,
   "layer": [
    {"data": {"name": "metric"}, "mark": {"type": "area", "color": "#c4c4c4"}, "encoding": {
      "x": {"field": "rank", "type": "quantitative", "scale": {"domain": [0, 59500], "nice": false, "zero": false}, "axis": {"values": [0,10000,20000,30000,40000,50000], "format": ",d", "title": "Rank in Ordered Dataset", "titleFontSize": 8, "titleColor": "#333333", "titlePadding": 3, "labelFontSize": 7.5, "labelColor": "#555555", "labelPadding": 4, "grid": true}},
      "y": {"field": "metric", "type": "quantitative", "scale": {"domain": [-0.71, 4.76], "nice": false}, "axis": {"values": [-0.5,0,0.5,1,1.5,2,2.5], "tickCount": 20, "format": ".1f", "title": "Ranked list metric (Signal2Noise)", "titleFontSize": 7.5, "titlePadding": 4.5, "titleY": 84.9, "labelFontSize": 7.5, "labelColor": "#666666", "grid": true}}}},
    {"data": {"name": "colorbar"}, "mark": {"type": "rect"}, "encoding": {"x": {"field": "start", "type": "quantitative"}, "x2": {"field": "end"}, "y": {"datum": 2.68}, "y2": {"datum": 3.1},
      "fill": {"field": "bin", "type": "nominal", "legend": null, "scale": {"domain": ["b01","b02","b03","b04","b05","b06","b07","b08","b09","b10","b11","b12","b13","b14","b15","b16"], "range": ["#9c0a0a","#c01818","#d02424","#dc2c2c","#e63434","#ee3c3c","#f44646","#f65050","#f0606c","#f87c7c","#fcb4e4","#d6d6fc","#c4c4f6","#7c7cf0","#5c5ce4","#1608c4"]}}}},
    {"data": {"name": "hits6"}, "mark": {"type": "rule", "strokeWidth": 1}, "encoding": {"x": {"field": "rank", "type": "quantitative"}, "y": {"datum": 3.1}, "y2": {"datum": 4.76},
      "color": {"datum": "Hits", "type": "nominal", "scale": {"domain": ["Enrichment profile", "Hits", "", "Ranking metric scores"], "range": ["#21e021", "#333333", "#e6e6e6", "#cccccc"]}, "legend": {"legendX": 10, "legendY": 150, "title": null}}}},
    {"data": {"values": [{}]}, "mark": {"type": "rule", "color": "#999999", "strokeDash": [2, 2]}, "encoding": {"x": {"datum": 43542}, "y": {"datum": -0.05}, "y2": {"datum": 2.68}}},
    {"data": {"name": "notes"}, "layer": [
      {"mark": {"type": "text", "align": "left", "baseline": "middle", "fontSize": 6, "color": "#e03c3c"}, "encoding": {"x": {"datum": 300}, "y": {"datum": 2.5}, "text": {"field": "pos"}}},
      {"mark": {"type": "text", "align": "center", "baseline": "middle", "fontSize": 6, "color": "#333333"}, "encoding": {"x": {"datum": 43542}, "y": {"datum": 1.0}, "text": {"field": "zero"}}},
      {"mark": {"type": "text", "align": "right", "baseline": "middle", "fontSize": 6, "color": "#3c3ce0"}, "encoding": {"x": {"datum": 45800}, "y": {"datum": -0.5}, "text": {"field": "neg"}}}]}
   ]}
 ]
},
{
 "spacing": -1, "resolve": {"legend": {"color": "independent"}},
 "vconcat": [
  {"width": 261, "height": 111, "title": {"text": "Enrichment plot: KEGG_RNA_DEGRADATION", "offset": 3},
   "layer": [
    {"data": {"values": [{}]}, "mark": {"type": "rule", "color": "#a8a8a8", "strokeWidth": 1.5}, "encoding": {"y": {"datum": 0, "type": "quantitative"}}},
    {"data": {"name": "es7"}, "mark": {"type": "line", "color": "#21e021", "strokeWidth": 2}, "encoding": {
      "x": {"field": "rank", "type": "quantitative", "scale": {"domain": [0, 59500], "nice": false, "zero": false}, "axis": {"values": [0,10000,20000,30000,40000,50000], "labels": false, "title": null, "grid": true, "minExtent": 0, "maxExtent": 0}},
      "y": {"field": "es", "type": "quantitative", "scale": {"domain": [-0.017, 0.684], "nice": false, "zero": false}, "axis": {"values": [0,0.1,0.2,0.3,0.4,0.5,0.6], "tickCount": 20, "format": ".1f", "title": "Enrichment score (ES)", "titleFontSize": 10, "titlePadding": 2, "labelFontSize": 8, "grid": true}}}},
    {"data": {"values": [{"nes": "NES=1.92", "p": "P", "pv": "= 0.008", "fdr": "FDR=0.028"}]}, "layer": [
      {"mark": {"type": "text", "align": "left", "baseline": "middle", "fontSize": 14, "fontWeight": "bold", "color": "#000000"}, "encoding": {"x": {"datum": 42300}, "y": {"datum": 0.594}, "text": {"field": "nes"}}},
      {"mark": {"type": "text", "align": "left", "baseline": "middle", "fontSize": 14, "fontWeight": "bold", "fontStyle": "italic", "color": "#000000"}, "encoding": {"x": {"datum": 42300}, "y": {"datum": 0.457}, "text": {"field": "p"}}},
      {"mark": {"type": "text", "align": "left", "baseline": "middle", "fontSize": 14, "fontWeight": "bold", "dx": 13, "color": "#000000"}, "encoding": {"x": {"datum": 42300}, "y": {"datum": 0.457}, "text": {"field": "pv"}}},
      {"mark": {"type": "text", "align": "left", "baseline": "middle", "fontSize": 14, "fontWeight": "bold", "color": "#000000"}, "encoding": {"x": {"datum": 42300}, "y": {"datum": 0.32}, "text": {"field": "fdr"}}}]}
   ]},
  {"width": 261, "height": 123,
   "layer": [
    {"data": {"name": "metric"}, "mark": {"type": "area", "color": "#c4c4c4"}, "encoding": {
      "x": {"field": "rank", "type": "quantitative", "scale": {"domain": [0, 59500], "nice": false, "zero": false}, "axis": {"values": [0,10000,20000,30000,40000,50000], "format": ",d", "title": "Rank in Ordered Dataset", "titleFontSize": 8, "titleColor": "#333333", "titlePadding": 3, "labelFontSize": 7.5, "labelColor": "#555555", "labelPadding": 4, "grid": true}},
      "y": {"field": "metric", "type": "quantitative", "scale": {"domain": [-0.71, 4.76], "nice": false}, "axis": {"values": [-0.5,0,0.5,1,1.5,2,2.5], "tickCount": 20, "format": ".1f", "title": "Ranked list metric (Signal2Noise)", "titleFontSize": 7.5, "titlePadding": 4.5, "titleY": 84.9, "labelFontSize": 7.5, "labelColor": "#666666", "grid": true}}}},
    {"data": {"name": "colorbar"}, "mark": {"type": "rect"}, "encoding": {"x": {"field": "start", "type": "quantitative"}, "x2": {"field": "end"}, "y": {"datum": 2.68}, "y2": {"datum": 3.1},
      "fill": {"field": "bin", "type": "nominal", "legend": null, "scale": {"domain": ["b01","b02","b03","b04","b05","b06","b07","b08","b09","b10","b11","b12","b13","b14","b15","b16"], "range": ["#9c0a0a","#c01818","#d02424","#dc2c2c","#e63434","#ee3c3c","#f44646","#f65050","#f0606c","#f87c7c","#fcb4e4","#d6d6fc","#c4c4f6","#7c7cf0","#5c5ce4","#1608c4"]}}}},
    {"data": {"name": "hits7"}, "mark": {"type": "rule", "strokeWidth": 1}, "encoding": {"x": {"field": "rank", "type": "quantitative"}, "y": {"datum": 3.1}, "y2": {"datum": 4.76},
      "color": {"datum": "Hits", "type": "nominal", "scale": {"domain": ["Enrichment profile", "Hits", "", "Ranking metric scores"], "range": ["#21e021", "#333333", "#e6e6e6", "#cccccc"]}, "legend": {"legendX": 10, "legendY": 150, "title": null}}}},
    {"data": {"values": [{}]}, "mark": {"type": "rule", "color": "#999999", "strokeDash": [2, 2]}, "encoding": {"x": {"datum": 43542}, "y": {"datum": -0.05}, "y2": {"datum": 2.68}}},
    {"data": {"name": "notes"}, "layer": [
      {"mark": {"type": "text", "align": "left", "baseline": "middle", "fontSize": 6, "color": "#e03c3c"}, "encoding": {"x": {"datum": 300}, "y": {"datum": 2.5}, "text": {"field": "pos"}}},
      {"mark": {"type": "text", "align": "center", "baseline": "middle", "fontSize": 6, "color": "#333333"}, "encoding": {"x": {"datum": 43542}, "y": {"datum": 1.0}, "text": {"field": "zero"}}},
      {"mark": {"type": "text", "align": "right", "baseline": "middle", "fontSize": 6, "color": "#3c3ce0"}, "encoding": {"x": {"datum": 45800}, "y": {"datum": -0.5}, "text": {"field": "neg"}}}]}
   ]}
 ]
},
{"width": 300, "height": 310, "view": {"stroke": null, "fill": "white"}, "data": {"values": [{}]}, "mark": {"type": "point", "opacity": 0}, "encoding": {}}
]
}
